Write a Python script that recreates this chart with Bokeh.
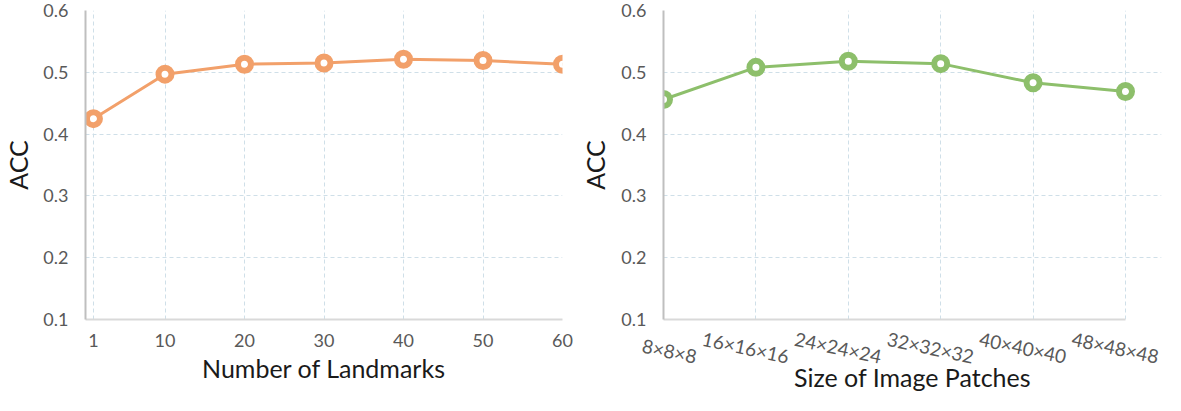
import math
from bokeh.plotting import figure
from bokeh.layouts import row
from bokeh.models import Range1d, FixedTicker, LinearAxis
from bokeh.embed import file_html
from bokeh.resources import INLINE

# ---- data ----
landmarks = [1, 10, 20, 30, 40, 50, 60]
acc_landmarks = [0.425, 0.497, 0.513, 0.515, 0.521, 0.519, 0.513]

patch_labels = ["8×8×8", "16×16×16", "24×24×24", "32×32×32", "40×40×40", "48×48×48"]
acc_patches = [0.456, 0.508, 0.518, 0.514, 0.483, 0.469]

y_ticks = [0.1, 0.2, 0.3, 0.4, 0.5, 0.6]

FONT = "Lato"
TICK_COLOR = "#595959"
TITLE_COLOR = "#1a1a1a"
GRID_COLOR = "#CFDFE8"
ORANGE = "#F2A06A"
GREEN = "#8DBF6B"


def style_axis(ax):
    ax.major_tick_line_color = None
    ax.minor_tick_line_color = None
    ax.major_tick_out = 0
    ax.major_label_text_font = FONT
    ax.major_label_text_font_size = "18px"
    ax.major_label_text_color = TICK_COLOR
    ax.axis_label_text_font = FONT
    ax.axis_label_text_font_size = "25px"
    ax.axis_label_text_font_style = "normal"
    ax.axis_label_text_color = TITLE_COLOR


def style(p):
    p.outline_line_color = None
    p.y_range = Range1d(0.1, 0.6)
    p.yaxis.ticker = FixedTicker(ticks=y_ticks)
    style_axis(p.xaxis[0])
    style_axis(p.yaxis[0])
    p.yaxis.axis_line_color = "#BFBFBF"
    p.yaxis.axis_line_width = 2
    p.xaxis.axis_line_color = "#D9D9D9"
    p.xaxis.axis_line_width = 2
    p.yaxis.axis_label = "ACC"
    p.yaxis.major_label_standoff = 17
    p.grid.grid_line_color = GRID_COLOR
    p.grid.grid_line_dash = "4 3"
    p.grid.grid_line_width = 1


# ---- left chart ----
p1 = figure(width=577, height=400, output_backend="svg", toolbar_location=None,
            x_range=Range1d(0, 60), min_border_left=81, min_border_right=15,
            min_border_top=10, min_border_bottom=81)
style(p1)
p1.xaxis.axis_label = "Number of Landmarks"
p1.yaxis.axis_label_standoff = 7
p1.xaxis.ticker = FixedTicker(ticks=landmarks)
p1.xaxis.major_label_standoff = 14
p1.xaxis.axis_label_standoff = 3
p1.line(landmarks, acc_landmarks, line_color=ORANGE, line_width=3)
p1.scatter(landmarks, acc_landmarks, size=13, line_width=6, line_color=ORANGE,
           fill_color="white")

# ---- right chart ----
xs = list(range(len(patch_labels)))
n_last = len(patch_labels) - 1
R_W, R_LEFT, R_RIGHT = 588, 86, 4
PAD_PX = 36            # room right of the last category for its rotated label
LABEL_SHIFT_PX = 33    # right end of each label sits this far right of its tick
unit = (R_W - R_LEFT - R_RIGHT - PAD_PX) / n_last
x_end = n_last + PAD_PX / unit

p2 = figure(width=R_W, height=400, output_backend="svg", toolbar_location=None,
            x_range=Range1d(0, x_end), min_border_left=R_LEFT,
            min_border_right=R_RIGHT, min_border_top=10, min_border_bottom=81)
style(p2)
p2.yaxis.axis_label_standoff = 8
p2.xaxis.ticker = FixedTicker(ticks=[])
p2.xaxis.major_label_standoff = 0
p2.xaxis.bounds = (0, n_last)
p2.xgrid.ticker = FixedTicker(ticks=xs)
p2.ygrid.bounds = (0, n_last)

shift = LABEL_SHIFT_PX / unit
p2.extra_x_ranges = {"lab": Range1d(-shift, x_end - shift)}
lab_axis = LinearAxis(x_range_name="lab", ticker=FixedTicker(ticks=xs))
style_axis(lab_axis)
lab_axis.major_label_text_font_size = "19px"
lab_axis.axis_line_color = None
lab_axis.major_label_overrides = {i: lab for i, lab in enumerate(patch_labels)}
lab_axis.major_label_orientation = 2 * math.pi - 0.21   # right-aligned, tilted down
lab_axis.major_label_standoff = 37
lab_axis.axis_label = "Size of Image Patches"
lab_axis.axis_label_standoff = -9
p2.add_layout(lab_axis, "below")

p2.line(xs, acc_patches, line_color=GREEN, line_width=3)
p2.scatter(xs, acc_patches, size=13, line_width=6, line_color=GREEN,
           fill_color="white")

layout = row(p1, p2)
open("out.html", "w").write(file_html(layout, INLINE))
